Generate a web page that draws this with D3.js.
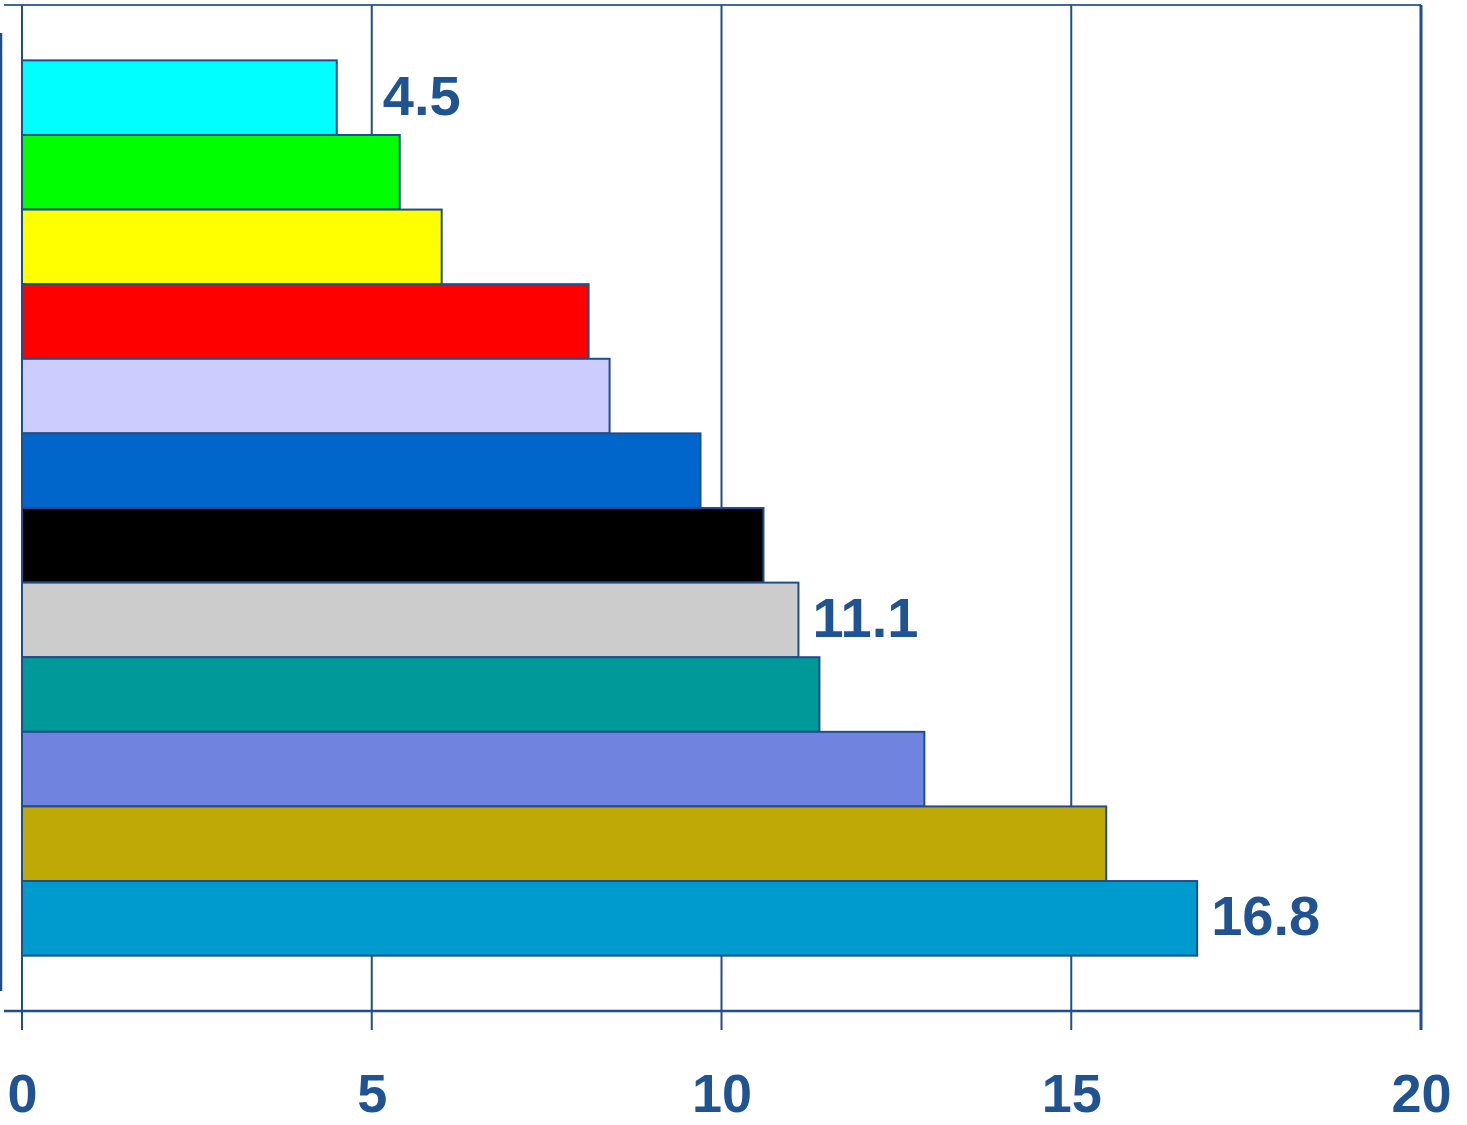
<!DOCTYPE html>
<html>
<head>
<meta charset="utf-8">
<script src="https://cdn.jsdelivr.net/npm/d3@7"></script>
<style>
  html, body { margin: 0; padding: 0; background: #fff; }
  svg { display: block; }
  text { font-family: "Liberation Sans", Arial, sans-serif; font-weight: bold; fill: #1F5391; }
</style>
</head>
<body>
<svg id="chart" width="1467" height="1125"></svg>
<script>
const categories = ["A","B","C","D","E","F","G","H","I","J","K","L"];
const values = [4.5, 5.4, 6.0, 8.1, 8.4, 9.7, 10.6, 11.1, 11.4, 12.9, 15.5, 16.8];
const colors = ["#00FFFF","#00FF00","#FFFF00","#FF0000","#CCCCFF","#0066CC","#000000","#CCCCCC","#009999","#6F83DF","#BFA906","#009BCE"];
const labelled = [0, 7, 11];
const xTicks = [0, 5, 10, 15, 20];

(function () {
const lineColor = "#1F4E8C";
const svg = d3.select("#chart");
const pLeft = 22, pRight = 1421, pTop = 5, pBottom = 1011;

const x = d3.scaleLinear().domain([0, 20]).range([pLeft, pRight]);
const y = d3.scaleBand().domain(categories).range([pTop, pBottom]).paddingInner(0).paddingOuter(0.742);

// partial line at far left
svg.append("line").attr("x1", 1).attr("x2", 1).attr("y1", 33).attr("y2", 991)
  .attr("stroke", lineColor).attr("stroke-width", 2.5);

// top border
svg.append("line").attr("x1", 4).attr("x2", pRight).attr("y1", pTop).attr("y2", pTop)
  .attr("stroke", lineColor).attr("stroke-width", 2).attr("stroke-opacity", 0.85);

// vertical gridlines + ticks
svg.append("g").selectAll("line").data(xTicks).join("line")
  .attr("x1", d => x(d)).attr("x2", d => x(d))
  .attr("y1", pTop).attr("y2", 1030)
  .attr("stroke", lineColor)
  .attr("stroke-width", d => d === 20 ? 3 : 2);

// bars
svg.append("g").selectAll("rect").data(values).join("rect")
  .attr("x", x(0))
  .attr("y", (d, i) => y(categories[i]))
  .attr("width", d => x(d) - x(0))
  .attr("height", y.bandwidth())
  .attr("fill", (d, i) => colors[i])
  .attr("stroke", lineColor)
  .attr("stroke-width", 2);

// bottom axis labels
const xAxis = d3.axisBottom(x).tickValues(xTicks).tickSize(0).tickPadding(0).tickFormat(d3.format("d"));
const gx = svg.append("g").attr("transform", `translate(0,${pBottom})`).call(xAxis);
gx.select(".domain").remove();
gx.selectAll("text")
  .attr("y", 101).attr("dy", null)
  .attr("font-size", 54)
  .style("fill", "#1F5391")
  .style("font-family", "'Liberation Sans', Arial, sans-serif")
  .style("font-weight", "bold");
svg.append("line").attr("x1", 4).attr("x2", pRight).attr("y1", pBottom).attr("y2", pBottom)
  .attr("stroke", lineColor).attr("stroke-width", 2.5);

// value labels
svg.append("g").selectAll("text").data(labelled).join("text")
  .attr("x", i => Math.max(x(values[i]) + 14, x(5) + 11))
  .attr("y", i => y(categories[i]) + y.bandwidth() / 2 + 17)
  .attr("font-size", 56)
  .text(i => values[i].toFixed(1));
})();
</script>
</body>
</html>
